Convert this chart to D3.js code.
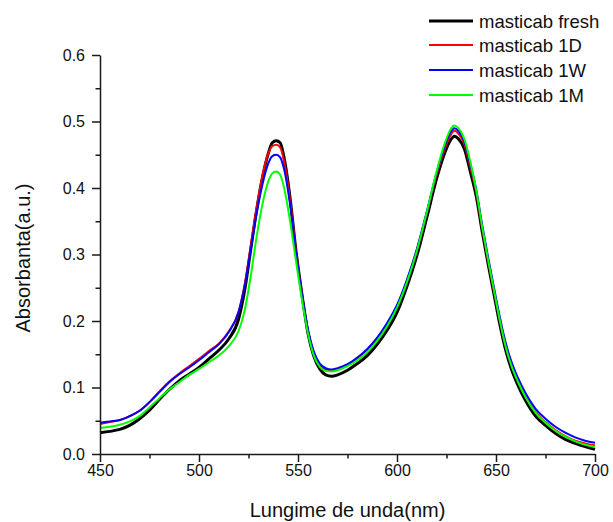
<!DOCTYPE html>
<html>
<head>
<meta charset="utf-8">
<script src="https://cdn.jsdelivr.net/npm/d3@7"></script>
<style>
  html, body { margin: 0; padding: 0; background: #fff; }
  svg { display: block; font-family: "Liberation Sans", Arial, sans-serif; }
</style>
</head>
<body>
<svg id="chart" width="613" height="522"></svg>
<script>
// Wavelengths (nm)
const wavelengths = [450,455,460,465,470,475,480,485,490,495,500,505,510,515,520,523,526,529,532,535,537,539,541,543,546,549,552,555,558,561,564,567,570,575,580,585,590,595,600,605,610,615,620,624,627,629,631,634,637,640,643,646,649,652,655,658,661,665,670,675,680,685,690,695,700];

const fresh = [0.032,0.034,0.037,0.043,0.053,0.066,0.082,0.097,0.110,0.120,0.130,0.143,0.156,0.173,0.203,0.245,0.305,0.365,0.415,0.452,0.468,0.471,0.468,0.445,0.385,0.305,0.240,0.182,0.147,0.128,0.119,0.117,0.119,0.126,0.136,0.148,0.165,0.186,0.213,0.252,0.298,0.355,0.414,0.452,0.472,0.478,0.474,0.459,0.425,0.388,0.335,0.286,0.240,0.194,0.155,0.126,0.104,0.080,0.057,0.043,0.031,0.022,0.016,0.011,0.007];

const d1 = [0.045,0.048,0.051,0.057,0.065,0.078,0.094,0.109,0.121,0.132,0.143,0.155,0.166,0.184,0.214,0.254,0.310,0.368,0.418,0.452,0.463,0.465,0.461,0.440,0.382,0.304,0.240,0.186,0.152,0.134,0.127,0.126,0.128,0.134,0.144,0.157,0.173,0.195,0.222,0.260,0.306,0.362,0.420,0.458,0.479,0.486,0.482,0.466,0.432,0.394,0.340,0.291,0.245,0.200,0.161,0.132,0.110,0.086,0.063,0.048,0.036,0.027,0.020,0.016,0.013];

const w1 = [0.047,0.049,0.051,0.057,0.065,0.078,0.093,0.108,0.120,0.130,0.141,0.153,0.165,0.183,0.214,0.252,0.305,0.360,0.405,0.437,0.448,0.450,0.446,0.428,0.375,0.302,0.240,0.188,0.154,0.136,0.129,0.127,0.129,0.135,0.145,0.158,0.175,0.197,0.224,0.262,0.308,0.364,0.423,0.462,0.484,0.490,0.486,0.470,0.436,0.398,0.345,0.296,0.250,0.205,0.166,0.137,0.115,0.091,0.068,0.053,0.041,0.032,0.025,0.020,0.017];

const m1 = [0.039,0.041,0.044,0.049,0.057,0.070,0.084,0.097,0.108,0.119,0.128,0.138,0.148,0.162,0.185,0.215,0.265,0.325,0.375,0.410,0.422,0.425,0.420,0.400,0.350,0.290,0.232,0.182,0.148,0.131,0.125,0.124,0.126,0.132,0.141,0.153,0.170,0.192,0.220,0.258,0.305,0.363,0.425,0.466,0.488,0.494,0.490,0.474,0.440,0.397,0.342,0.292,0.246,0.200,0.160,0.131,0.109,0.085,0.062,0.047,0.035,0.026,0.019,0.014,0.011];

const seriesNames = ["masticab fresh","masticab 1D","masticab 1W","masticab 1M"];
const seriesValues = [fresh, d1, w1, m1];
const seriesColors = ["#000000","#ff0000","#0000ff","#00ff00"];
const seriesWidths = [3, 2, 2, 2];

const xMajor = [450,500,550,600,650,700];
const xMinor = [475,525,575,625,675];
const yMajor = [0.0,0.1,0.2,0.3,0.4,0.5,0.6];
const yMinor = [0.05,0.15,0.25,0.35,0.45,0.55];

const svg = d3.select("#chart");
const x = d3.scaleLinear().domain([450,700]).range([100,595]);
const y = d3.scaleLinear().domain([0,0.6]).range([454,55]);

const axisColor = "#1a1a1a";

// curves
const line = d3.line()
  .x(d => x(d[0]))
  .y(d => y(d[1]))
  .curve(d3.curveMonotoneX);

seriesValues.forEach((vals, i) => {
  const pts = wavelengths.map((w, k) => [w, vals[k]]);
  svg.append("path")
    .attr("d", line(pts))
    .attr("fill", "none")
    .attr("stroke", seriesColors[i])
    .attr("stroke-width", seriesWidths[i])
    .attr("stroke-linejoin", "round");
});

// X axis
const gx = svg.append("g").attr("transform", "translate(0,454)");
gx.call(d3.axisBottom(x).tickValues(xMajor).tickSize(8).tickSizeOuter(0).tickPadding(3).tickFormat(d3.format("d")));
gx.append("g").call(d3.axisBottom(x).tickValues(xMinor).tickSize(4.5).tickFormat("")).select(".domain").remove();
gx.selectAll("text").attr("font-size", 16).attr("fill", "#111").attr("font-family", "Liberation Sans, Arial, sans-serif");
gx.selectAll("line,path").attr("stroke", axisColor).attr("stroke-width", 1.5);

// Y axis
const gy = svg.append("g").attr("transform", "translate(100,0)");
gy.call(d3.axisLeft(y).tickValues(yMajor).tickSize(8).tickSizeOuter(0).tickPadding(7).tickFormat(d3.format(".1f")));
gy.append("g").call(d3.axisLeft(y).tickValues(yMinor).tickSize(4.5).tickFormat("")).select(".domain").remove();
gy.selectAll("text").attr("font-size", 16).attr("fill", "#111").attr("font-family", "Liberation Sans, Arial, sans-serif");
gy.selectAll("line,path").attr("stroke", axisColor).attr("stroke-width", 1.5);

// Axis titles
svg.append("text")
  .attr("x", 347.5).attr("y", 517)
  .attr("text-anchor", "middle")
  .attr("font-size", 20)
  .attr("fill", "#111")
  .text("Lungime de unda(nm)");

svg.append("text")
  .attr("transform", "translate(30,258) rotate(-90)")
  .attr("text-anchor", "middle")
  .attr("font-size", 20)
  .attr("fill", "#111")
  .text("Absorbanta(a.u.)");

// Legend
const legY = [21, 45, 70, 95];
seriesNames.forEach((name, i) => {
  const g = svg.append("g");
  g.append("line")
    .attr("x1", 429).attr("x2", 473)
    .attr("y1", legY[i]).attr("y2", legY[i])
    .attr("stroke", seriesColors[i])
    .attr("stroke-width", seriesWidths[i]);
  g.append("text")
    .attr("x", 479).attr("y", legY[i] + 7)
    .attr("font-size", 18.5)
    .attr("fill", "#111")
    .text(name);
});
</script>
</body>
</html>
